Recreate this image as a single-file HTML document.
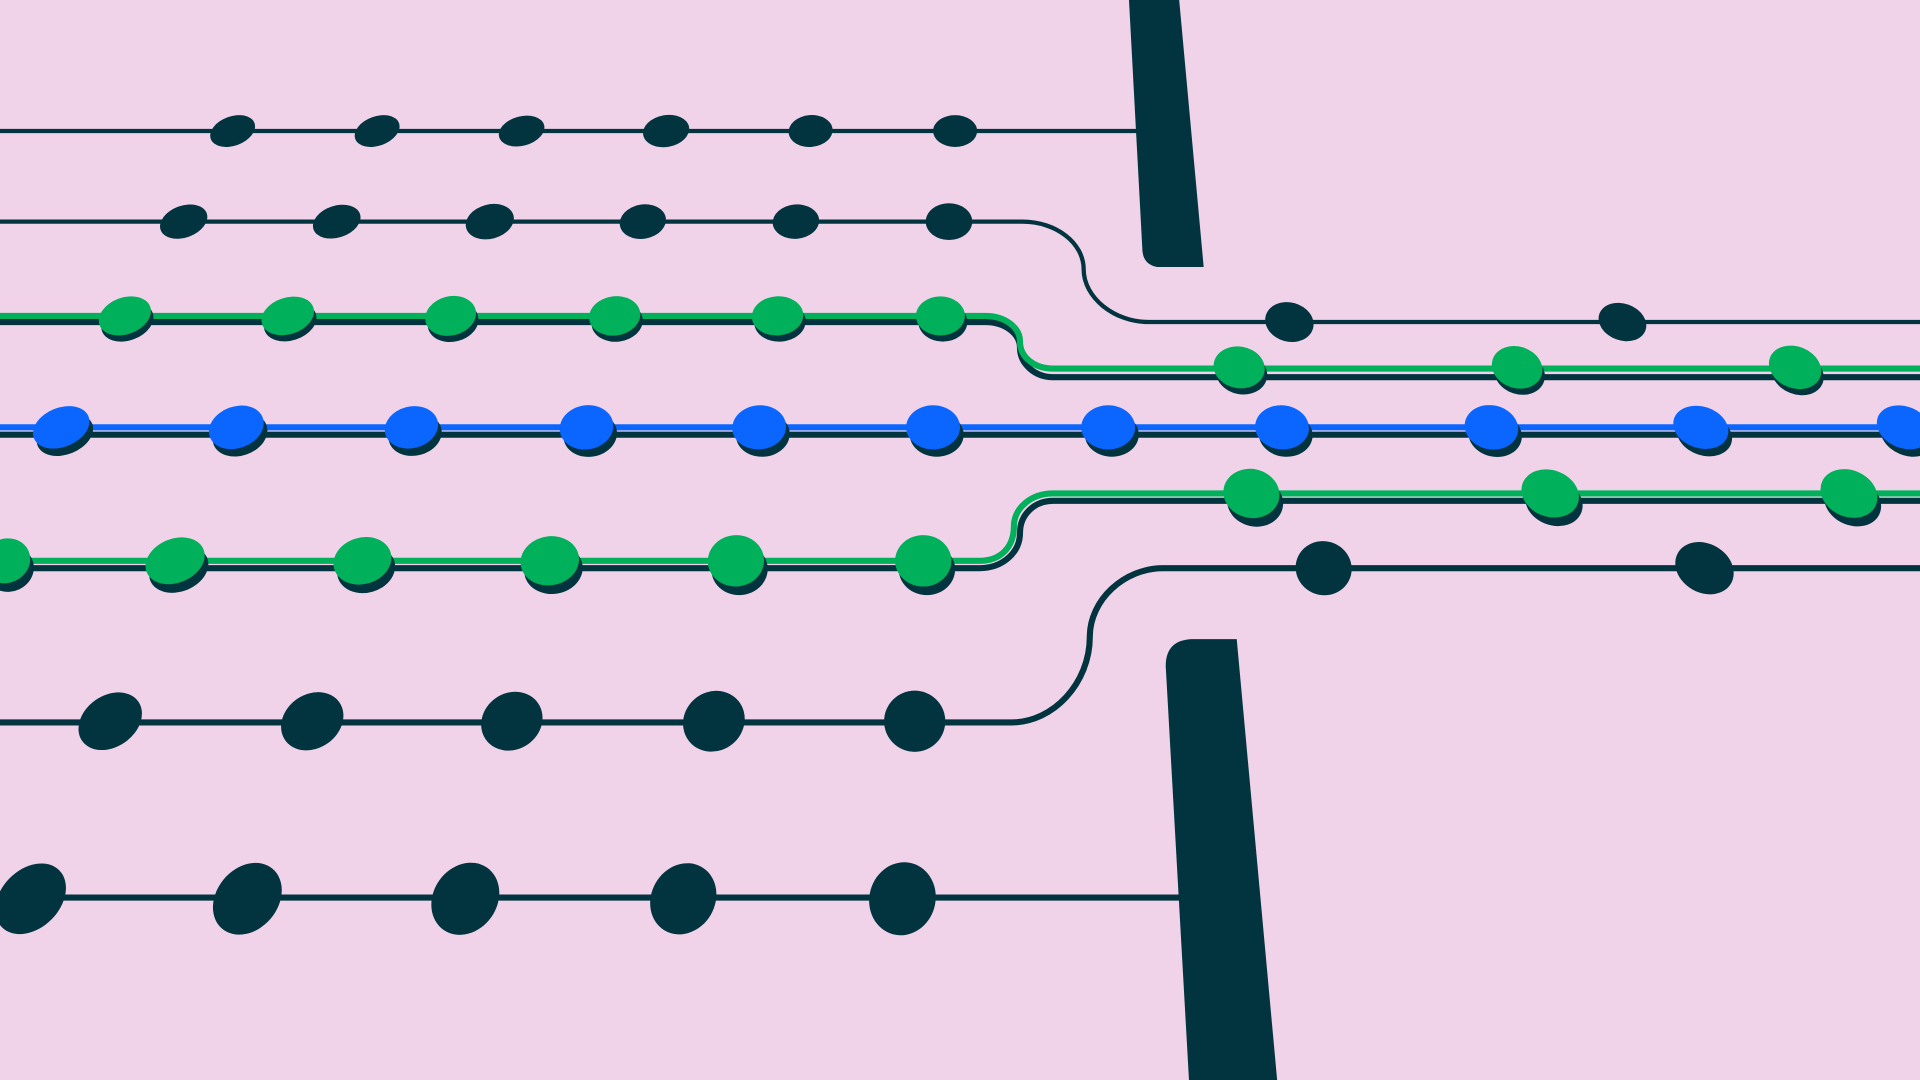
<!DOCTYPE html>
<html><head><meta charset="utf-8"><style>
html,body{margin:0;padding:0;background:#f0d3e8;}
svg{display:block;}
</style></head><body>
<svg width="1920" height="1080" viewBox="0 0 1568 882" preserveAspectRatio="none" xmlns="http://www.w3.org/2000/svg">
<rect width="1568" height="882" fill="#f0d3e8"/>
<g fill="none" stroke-linecap="butt">
<!-- row1 -->
<path d="M0 107 H930" stroke="#023440" stroke-width="3.5"/>
<!-- row2 -->
<path d="M0 181 H835 C862 181 885 198 885 220 C885 243 910 263 938 263 H1568" stroke="#023440" stroke-width="3.5"/>
<!-- green row 3 -->
<path d="M0 263 H805 C820 263 833 272 833 284 C833 297 845 308 860 308 H1568" stroke="#023440" stroke-width="5"/>
<path d="M0 258 H805 C820 258 833 267 833 279 C833 292 845 301 860 301 H1568" stroke="#00b05a" stroke-width="5"/>
<!-- blue row -->
<path d="M0 355 H1568" stroke="#023440" stroke-width="5"/>
<path d="M0 349 H1568" stroke="#0a66ff" stroke-width="5"/>
<!-- green row 5 -->
<path d="M0 464 H800 C818 464 833 452 833 435 C833 420 845 409 860 409 H1568" stroke="#023440" stroke-width="5"/>
<path d="M0 458 H800 C818 458 828 446 828 430 C828 415 842 403 860 403 H1568" stroke="#00b05a" stroke-width="5"/>
<!-- row 6 -->
<path d="M1568 464 H950 C918 464 890 490 890 520 C890 558 860 590 826 590 H0" stroke="#023440" stroke-width="5"/>
<!-- row 7 -->
<path d="M0 733 H965" stroke="#023440" stroke-width="5"/>
</g>
<!-- bars -->
<path d="M922 0 H963 L983 218 H945 Q934 216 933 205 Z" fill="#023440"/>
<path d="M973 522 H1010 L1043 882 H971 L952 544 Q952 523 973 522 Z" fill="#023440"/>
<g fill="#023440">
<!-- row1 beads -->
<g transform="translate(0,107)">
<ellipse cx="190" cy="0" rx="19" ry="12" transform="rotate(-20 190 0)"/>
<ellipse cx="308" cy="0" rx="19" ry="12" transform="rotate(-20 308 0)"/>
<ellipse cx="426" cy="0" rx="19" ry="12" transform="rotate(-15 426 0)"/>
<ellipse cx="544" cy="0" rx="19" ry="13" transform="rotate(-10 544 0)"/>
<ellipse cx="662" cy="0" rx="18" ry="13" transform="rotate(-5 662 0)"/>
<ellipse cx="780" cy="0" rx="18" ry="13"/>
</g>
<g transform="translate(0,181)">
<ellipse cx="150" cy="0" rx="20" ry="13" transform="rotate(-20 150 0)"/>
<ellipse cx="275" cy="0" rx="20" ry="13" transform="rotate(-18 275 0)"/>
<ellipse cx="400" cy="0" rx="20" ry="14" transform="rotate(-15 400 0)"/>
<ellipse cx="525" cy="0" rx="19" ry="14" transform="rotate(-10 525 0)"/>
<ellipse cx="650" cy="0" rx="19" ry="14" transform="rotate(-5 650 0)"/>
<ellipse cx="775" cy="0" rx="19" ry="15"/>
</g>
<ellipse cx="1053" cy="263" rx="20" ry="16" transform="rotate(15 1053 263)"/>
<ellipse cx="1325" cy="263" rx="20" ry="15" transform="rotate(20 1325 263)"/>
<!-- green row shadows -->
<g transform="translate(2,5)">
<ellipse cx="102" cy="258" rx="22" ry="15" transform="rotate(-20 102 258)"/>
<ellipse cx="235" cy="258" rx="22" ry="15" transform="rotate(-18 235 258)"/>
<ellipse cx="368" cy="258" rx="21" ry="16" transform="rotate(-14 368 258)"/>
<ellipse cx="502" cy="258" rx="21" ry="16" transform="rotate(-8 502 258)"/>
<ellipse cx="635" cy="258" rx="21" ry="16" transform="rotate(-4 635 258)"/>
<ellipse cx="768" cy="258" rx="20" ry="16"/>
<ellipse cx="1012" cy="300" rx="21" ry="17" transform="rotate(10 1012 300)"/>
<ellipse cx="1239" cy="300" rx="21" ry="17" transform="rotate(18 1239 300)"/>
<ellipse cx="1466" cy="300" rx="22" ry="17" transform="rotate(22 1466 300)"/>
</g>
<!-- blue shadows -->
<g transform="translate(3,6)">
<ellipse cx="50" cy="349" rx="24" ry="16" transform="rotate(-22 50 349)"/>
<ellipse cx="193" cy="349" rx="23" ry="17" transform="rotate(-20 193 349)"/>
<ellipse cx="336" cy="349" rx="22" ry="17" transform="rotate(-14 336 349)"/>
<ellipse cx="479" cy="349" rx="22" ry="18" transform="rotate(-10 479 349)"/>
<ellipse cx="620" cy="349" rx="22" ry="18" transform="rotate(-5 620 349)"/>
<ellipse cx="762" cy="349" rx="22" ry="18"/>
<ellipse cx="905" cy="349" rx="22" ry="18"/>
<ellipse cx="1047" cy="349" rx="22" ry="18" transform="rotate(5 1047 349)"/>
<ellipse cx="1218" cy="349" rx="22" ry="18" transform="rotate(12 1218 349)"/>
<ellipse cx="1389" cy="349" rx="23" ry="17" transform="rotate(18 1389 349)"/>
<ellipse cx="1555" cy="349" rx="23" ry="17" transform="rotate(22 1555 349)"/>
</g>
<!-- green row5 shadows -->
<g transform="translate(3,7)">
<ellipse cx="5" cy="458" rx="20" ry="18" transform="rotate(-25 5 458)"/>
<ellipse cx="143" cy="458" rx="25" ry="18" transform="rotate(-22 143 458)"/>
<ellipse cx="296" cy="458" rx="24" ry="19" transform="rotate(-16 296 458)"/>
<ellipse cx="449" cy="458" rx="24" ry="20" transform="rotate(-10 449 458)"/>
<ellipse cx="601" cy="458" rx="23" ry="21" transform="rotate(-5 601 458)"/>
<ellipse cx="754" cy="458" rx="23" ry="21"/>
<ellipse cx="1022" cy="403" rx="23" ry="20" transform="rotate(12 1022 403)"/>
<ellipse cx="1266" cy="403" rx="24" ry="19" transform="rotate(20 1266 403)"/>
<ellipse cx="1510" cy="403" rx="24" ry="19" transform="rotate(24 1510 403)"/>
</g>
<!-- row6 beads -->
<ellipse cx="1081" cy="464" rx="23" ry="22" transform="rotate(20 1081 464)"/>
<ellipse cx="1392" cy="464" rx="25" ry="20" transform="rotate(30 1392 464)"/>
<ellipse cx="90" cy="589" rx="28" ry="21" transform="rotate(-35 90 589)"/>
<ellipse cx="255" cy="589" rx="27" ry="22" transform="rotate(-35 255 589)"/>
<ellipse cx="418" cy="589" rx="26" ry="23" transform="rotate(-35 418 589)"/>
<ellipse cx="583" cy="589" rx="26" ry="24" transform="rotate(-40 583 589)"/>
<ellipse cx="747" cy="589" rx="25" ry="25"/>
<!-- row7 -->
<ellipse cx="25" cy="734" rx="33" ry="24" transform="rotate(-45 25 734)"/>
<ellipse cx="202" cy="734" rx="32" ry="25" transform="rotate(-50 202 734)"/>
<ellipse cx="380" cy="734" rx="31" ry="26" transform="rotate(-55 380 734)"/>
<ellipse cx="558" cy="734" rx="30" ry="26" transform="rotate(-60 558 734)"/>
<ellipse cx="737" cy="734" rx="30" ry="27" transform="rotate(-75 737 734)"/>
</g>
<!-- green beads -->
<g fill="#00b05a">
<ellipse cx="102" cy="258" rx="22" ry="15" transform="rotate(-20 102 258)"/>
<ellipse cx="235" cy="258" rx="22" ry="15" transform="rotate(-18 235 258)"/>
<ellipse cx="368" cy="258" rx="21" ry="16" transform="rotate(-14 368 258)"/>
<ellipse cx="502" cy="258" rx="21" ry="16" transform="rotate(-8 502 258)"/>
<ellipse cx="635" cy="258" rx="21" ry="16" transform="rotate(-4 635 258)"/>
<ellipse cx="768" cy="258" rx="20" ry="16"/>
<ellipse cx="1012" cy="300" rx="21" ry="17" transform="rotate(10 1012 300)"/>
<ellipse cx="1239" cy="300" rx="21" ry="17" transform="rotate(18 1239 300)"/>
<ellipse cx="1466" cy="300" rx="22" ry="17" transform="rotate(22 1466 300)"/>
<ellipse cx="5" cy="458" rx="20" ry="18" transform="rotate(-25 5 458)"/>
<ellipse cx="143" cy="458" rx="25" ry="18" transform="rotate(-22 143 458)"/>
<ellipse cx="296" cy="458" rx="24" ry="19" transform="rotate(-16 296 458)"/>
<ellipse cx="449" cy="458" rx="24" ry="20" transform="rotate(-10 449 458)"/>
<ellipse cx="601" cy="458" rx="23" ry="21" transform="rotate(-5 601 458)"/>
<ellipse cx="754" cy="458" rx="23" ry="21"/>
<ellipse cx="1022" cy="403" rx="23" ry="20" transform="rotate(12 1022 403)"/>
<ellipse cx="1266" cy="403" rx="24" ry="19" transform="rotate(20 1266 403)"/>
<ellipse cx="1510" cy="403" rx="24" ry="19" transform="rotate(24 1510 403)"/>
</g>
<g fill="#0a66ff">
<ellipse cx="50" cy="349" rx="24" ry="16" transform="rotate(-22 50 349)"/>
<ellipse cx="193" cy="349" rx="23" ry="17" transform="rotate(-20 193 349)"/>
<ellipse cx="336" cy="349" rx="22" ry="17" transform="rotate(-14 336 349)"/>
<ellipse cx="479" cy="349" rx="22" ry="18" transform="rotate(-10 479 349)"/>
<ellipse cx="620" cy="349" rx="22" ry="18" transform="rotate(-5 620 349)"/>
<ellipse cx="762" cy="349" rx="22" ry="18"/>
<ellipse cx="905" cy="349" rx="22" ry="18"/>
<ellipse cx="1047" cy="349" rx="22" ry="18" transform="rotate(5 1047 349)"/>
<ellipse cx="1218" cy="349" rx="22" ry="18" transform="rotate(12 1218 349)"/>
<ellipse cx="1389" cy="349" rx="23" ry="17" transform="rotate(18 1389 349)"/>
<ellipse cx="1555" cy="349" rx="23" ry="17" transform="rotate(22 1555 349)"/>
</g>
</svg>
</body></html>
